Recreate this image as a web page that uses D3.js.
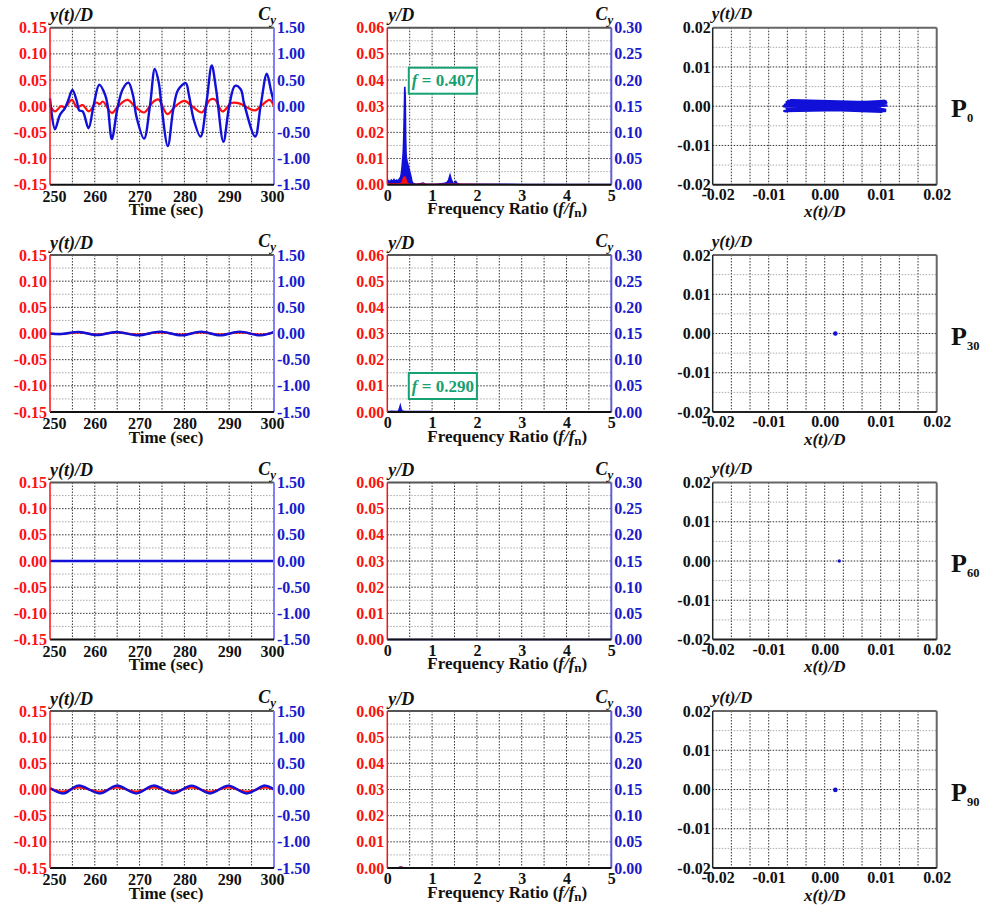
<!DOCTYPE html>
<html>
<head>
<meta charset="utf-8">
<script src="https://cdn.jsdelivr.net/npm/d3@7"></script>
<style>
    body { margin: 0; background: #fff; }
    svg text { font-family: "Liberation Serif", "Times New Roman", serif; font-weight: bold; }
</style>
</head>
<body>
<svg id="chart" width="981" height="906"></svg>
<script>
// ---- tick labels ----
const timeTicks = [250, 260, 270, 280, 290, 300];
const ydTimeTicks = [-0.15, -0.1, -0.05, 0, 0.05, 0.1, 0.15];
const cyTimeTicks = [-1.5, -1.0, -0.5, 0, 0.5, 1.0, 1.5];
const freqTicks = [0, 1, 2, 3, 4, 5];
const ydFreqTicks = [0, 0.01, 0.02, 0.03, 0.04, 0.05, 0.06];
const cyFreqTicks = [0, 0.05, 0.1, 0.15, 0.2, 0.25, 0.3];
const orbitTicks = [-0.02, -0.01, 0, 0.01, 0.02];
const caseNames = ["0", "30", "60", "90"];
const peakLabels = ["0.407", "0.290", null, null];

// ---- P0 ----
const tCy0 = [250, 251.1, 252.2, 253.3, 254.1, 255.0, 256.0, 256.5, 257.3, 258.6, 259.7, 261.0, 262.3, 262.9, 263.8, 265.0, 266.2, 267.5, 268.5, 269.3, 271.0, 272.3, 273.4, 274.3, 274.9, 276.3, 277.5, 278.6, 280.3, 281.0, 282.1, 283.6, 285.0, 286.1, 287.1, 288.7, 290.0, 291.3, 292.6, 293.3, 295.8, 297.0, 298.4, 299.3, 300];
const cy0 = [0.15, -0.44, -0.17, -0.04, 0.12, 0.31, 0.09, -0.08, -0.1, -0.42, 0.0, 0.41, 0.22, 0.0, -0.63, -0.07, 0.32, 0.45, 0.22, -0.2, -0.62, 0.0, 0.71, 0.44, 0.0, -0.76, -0.07, 0.31, 0.44, 0.22, -0.26, -0.58, 0.12, 0.78, 0.31, -0.68, 0.0, 0.39, 0.32, 0.06, -0.58, 0.0, 0.62, 0.31, 0.06];
const tYd0 = [250, 251.1, 252.5, 253.3, 254.9, 256.0, 257.3, 258.7, 260.3, 261.1, 261.8, 263.8, 265.2, 267.3, 269.0, 271.0, 273.0, 274.2, 276.2, 278.0, 280.0, 281.7, 283.9, 285.7, 286.8, 288.5, 290.5, 292.4, 294.3, 295.8, 297.3, 299.0, 300];
const yd0 = [0.002, -0.01, 0.0, -0.002, 0.012, -0.002, 0.002, -0.01, 0.007, 0.004, 0.009, -0.013, 0.0, 0.012, -0.001, -0.012, 0.008, 0.013, -0.015, 0.0, 0.01, 0.0, -0.012, 0.012, 0.013, -0.01, 0.006, 0.005, -0.004, -0.008, 0.002, 0.012, 0.0];
const freqCy0 = [0, 0.03, 0.06, 0.09, 0.12, 0.15, 0.18, 0.21, 0.24, 0.27, 0.30, 0.32, 0.33, 0.34, 0.35, 0.36, 0.37, 0.38, 0.39, 0.40, 0.41, 0.42, 0.44, 0.47, 0.50, 0.53, 0.55, 0.58, 0.65, 0.75, 0.80, 0.85, 0.95, 1.10, 1.25, 1.33, 1.37, 1.40, 1.43, 1.47, 1.50, 1.53, 1.56, 1.62, 1.80, 2.00, 2.30, 2.60, 3.00, 4.00, 5.00];
const ampCy0 = [0.004, 0.008, 0.005, 0.009, 0.006, 0.01, 0.006, 0.009, 0.007, 0.011, 0.015, 0.025, 0.034, 0.045, 0.055, 0.07, 0.1, 0.14, 0.187, 0.17, 0.09, 0.055, 0.045, 0.035, 0.025, 0.015, 0.006, 0.002, 0.001, 0.002, 0.003, 0.001, 0.001, 0.001, 0.002, 0.004, 0.009, 0.018, 0.009, 0.003, 0.002, 0.006, 0.002, 0.001, 0.001, 0.001, 0.001, 0.001, 0.0005, 0.0005, 0.0005];
const freqYd0 = [0, 0.05, 0.10, 0.15, 0.20, 0.25, 0.30, 0.33, 0.35, 0.37, 0.39, 0.41, 0.43, 0.45, 0.50, 0.60, 0.80, 0.85, 1.00, 1.40, 2.00, 5.00];
const ampYd0 = [0.0003, 0.0004, 0.0002, 0.0004, 0.0003, 0.0004, 0.0005, 0.001, 0.0022, 0.0028, 0.003, 0.0026, 0.0012, 0.0005, 0.0002, 0.0001, 0.0003, 0.0001, 0.0001, 0.0002, 0.0001, 0.0];
const orbitX0 = [-0.007, 0.0108, -0.0065, 0.0105, -0.0072, 0.011, -0.006, 0.0102, -0.0068, 0.0109, -0.0071, 0.0104, -0.0066, 0.011, -0.0069, 0.0106, -0.0062, 0.0108, -0.007, 0.0103, -0.0067, 0.0107, -0.0073, 0.0101];
const orbitY0 = [0.001, -0.0012, 0.0013, -0.0008, -0.0012, 0.0009, 0.0015, -0.0014, -0.0005, 0.0012, 0.0004, -0.0011, 0.0011, 0.0002, -0.0013, 0.001, 0.0007, -0.0009, -0.0002, 0.0005, -0.0008, 0.0013, 0.0, -0.0004];

// ---- P30 ----
const tCy30 = [250, 252.5, 256.5, 260.5, 264.8, 269.7, 274.5, 279.4, 283.7, 288.0, 292.3, 297.0, 300];
const cy30 = [0.0, -0.01, 0.03, -0.03, 0.03, -0.035, 0.035, -0.035, 0.035, -0.035, 0.035, -0.035, 0.03];
const tYd30 = [250, 252.5, 256.5, 260.5, 264.8, 269.7, 274.5, 279.4, 283.7, 288.0, 292.3, 297.0, 300];
const yd30 = [0.0, -0.001, 0.002, -0.002, 0.002, -0.002, 0.002, -0.002, 0.002, -0.002, 0.002, -0.002, 0.002];
const freqCy30 = [0, 0.1, 0.2, 0.25, 0.27, 0.29, 0.31, 0.33, 0.4, 0.6, 0.8, 1.0, 1.05, 5.0];
const ampCy30 = [0.001, 0.0015, 0.001, 0.002, 0.006, 0.012, 0.005, 0.002, 0.001, 0.001, 0.001, 0.001, 0.0, 0.0];
const freqYd30 = [0, 5];
const ampYd30 = [0, 0];
const orbitX30 = [0.0019];
const orbitY30 = [0.0];

// ---- P60 ----
const tCy60 = [250, 300];
const cy60 = [0, 0];
const tYd60 = [250, 300];
const yd60 = [0, 0];
const freqCy60 = [0, 5];
const ampCy60 = [0, 0];
const freqYd60 = [0, 5];
const ampYd60 = [0, 0];
const orbitX60 = [0.0026];
const orbitY60 = [0.0];

// ---- P90 ----
const tCy90 = [250, 253.0, 256.3, 261.2, 264.9, 269.3, 273.1, 277.5, 281.6, 285.7, 289.8, 293.9, 298.0, 300];
const cy90 = [0.03, -0.075, 0.075, -0.075, 0.075, -0.075, 0.075, -0.075, 0.075, -0.075, 0.075, -0.075, 0.075, 0.0];
const tYd90 = [250, 253.0, 256.3, 261.2, 264.9, 269.3, 273.1, 277.5, 281.6, 285.7, 289.8, 293.9, 298.0, 300];
const yd90 = [0.002, -0.004, 0.004, -0.004, 0.004, -0.004, 0.004, -0.004, 0.004, -0.004, 0.004, -0.004, 0.004, 0.0];
const freqCy90 = [0, 0.25, 0.3, 0.35, 0.6, 5];
const ampCy90 = [0.0005, 0.001, 0.002, 0.001, 0.0005, 0];
const freqYd90 = [0, 0.26, 0.3, 0.34, 0.5, 5];
const ampYd90 = [0, 0.0001, 0.0004, 0.0001, 0, 0];
const orbitX90 = [0.0019];
const orbitY90 = [-0.0001];

const zip = (a, b) => a.map((v, i) => [v, b[i]]);

const rows = [
    { time: [zip(tYd0, yd0), zip(tCy0, cy0)], spec: [zip(freqYd0, ampYd0), zip(freqCy0, ampCy0)], orbit: zip(orbitX0, orbitY0) },
    { time: [zip(tYd30, yd30), zip(tCy30, cy30)], spec: [zip(freqYd30, ampYd30), zip(freqCy30, ampCy30)], orbit: zip(orbitX30, orbitY30) },
    { time: [zip(tYd60, yd60), zip(tCy60, cy60)], spec: [zip(freqYd60, ampYd60), zip(freqCy60, ampCy60)], orbit: zip(orbitX60, orbitY60) },
    { time: [zip(tYd90, yd90), zip(tCy90, cy90)], spec: [zip(freqYd90, ampYd90), zip(freqCy90, ampCy90)], orbit: zip(orbitX90, orbitY90) }
];

// ---- layout ----
const rowTops = [27.7, 255, 482.5, 711];
const plotW = 224;
const plotH = 157;
const timeLeft = 50;
const freqLeft = 387.3;
const orbitLeft = 712.7;

const RED = "#ff1010";
const BLUE = "#1010d8";
const BLUE_TEXT = "#1a1acc";
const GREEN = "#17a070";
const SERIF = '"Liberation Serif", "Times New Roman", serif';
const TICK_SIZE = 16;

const locale = d3.formatLocale({ decimal: ".", thousands: ",", grouping: [3], currency: ["", ""], minus: "-" });
const f2 = locale.format(".2f");

const svg = d3.select("#chart");

const gridLines = (g, xs, ys, majorEvery) => {
    g.append("g")
        .selectAll("line")
        .data(xs)
        .join("line")
        .attr("x1", (d) => d)
        .attr("x2", (d) => d)
        .attr("y1", 0)
        .attr("y2", plotH)
        .attr("stroke", "#333")
        .attr("stroke-width", 1)
        .attr("stroke-dasharray", "1.5,1.5");
    g.append("g")
        .selectAll("line")
        .data(ys)
        .join("line")
        .attr("x1", 0)
        .attr("x2", plotW)
        .attr("y1", (d) => d.y)
        .attr("y2", (d) => d.y)
        .attr("stroke", (d) => (d.i % majorEvery == 0 ? "#333" : "#aaa"))
        .attr("stroke-width", 1)
        .attr("stroke-dasharray", "1.5,1.5");
};

// draws an axis with labels only (the frame is drawn separately)
const labelAxis = (g, axis, color, offsets) => {
    const a = g.append("g").call(axis);
    a.select(".domain").remove();
    a.attr("font-size", TICK_SIZE).attr("font-family", SERIF).attr("font-weight", "bold");
    const texts = a.selectAll("text").attr("fill", color);
    if (offsets) {
        texts.attr("dx", (d, i) => offsets[i] || 0);
    }
    return a;
};

const frame = (g, colors) => {
    const [top, right, bottom, left] = colors;
    const seg = (x1, y1, x2, y2, c, w) =>
        g.append("line").attr("x1", x1).attr("y1", y1).attr("x2", x2).attr("y2", y2).attr("stroke", c).attr("stroke-width", w);
    seg(0, 0, plotW, 0, top, 2);
    seg(plotW, 0, plotW, plotH, right, 2);
    seg(0, plotH, plotW, plotH, bottom, 2);
    seg(0, 0, 0, plotH, left, 1.5);
};

const cyLabel = (g, x, y) => {
    const t = g.append("text").attr("x", x).attr("y", y).attr("text-anchor", "end").attr("font-size", 18).attr("font-style", "italic").attr("fill", "#111");
    t.append("tspan").text("C");
    t.append("tspan").attr("font-size", 13).attr("dy", 4).text("y");
};

const timePanel = (row, top) => {
    const g = svg.append("g").attr("transform", `translate(${timeLeft},${top})`);
    const x = d3.scaleLinear().domain([250, 300]).range([0, plotW]);
    const yL = d3.scaleLinear().domain([-0.15, 0.15]).range([plotH, 0]);
    const yR = d3.scaleLinear().domain([-1.5, 1.5]).range([plotH, 0]);

    gridLines(
        g,
        d3.range(1, 10).map((i) => x(250 + i * 5)),
        d3.range(1, 12).map((i) => ({ i, y: yL(-0.15 + i * 0.025) })),
        2
    );

    const line = (sx, sy) =>
        d3.line().x((d) => sx(d[0])).y((d) => sy(d[1])).curve(d3.curveCatmullRom.alpha(0.5));
    g.append("path").datum(row.time[0]).attr("fill", "none").attr("stroke", RED).attr("stroke-width", 2.2).attr("d", line(x, yL));
    g.append("path").datum(row.time[1]).attr("fill", "none").attr("stroke", BLUE).attr("stroke-width", 2.4).attr("d", line(x, yR));

    frame(g, ["#555", "#8080ff", "#111", RED]);

    labelAxis(g, d3.axisLeft(yL).tickValues(ydTimeTicks).tickSize(0).tickPadding(3).tickFormat(f2), RED);
    labelAxis(g.append("g").attr("transform", `translate(${plotW},0)`), d3.axisRight(yR).tickValues(cyTimeTicks).tickSize(0).tickPadding(3).tickFormat(f2), BLUE_TEXT);
    labelAxis(g.append("g").attr("transform", `translate(0,${plotH})`), d3.axisBottom(x).tickValues(timeTicks).tickSize(0).tickPadding(6).tickFormat(d3.format("d")), "#111", [4, 0, 0, 0, 0, -2]);

    g.append("text").attr("x", 0).attr("y", -6.5).attr("font-size", 18).attr("font-style", "italic").attr("fill", "#111").text("y(t)/D");
    cyLabel(g, plotW + 2, -8);
    g.append("text").attr("x", plotW / 2 + 4).attr("y", plotH + 30.5).attr("text-anchor", "middle").attr("font-size", 17).attr("fill", "#111").text("Time (sec)");
};

const freqPanel = (row, top, peak, peakTop) => {
    const g = svg.append("g").attr("transform", `translate(${freqLeft},${top})`);
    const x = d3.scaleLinear().domain([0, 5]).range([0, plotW]);
    const yL = d3.scaleLinear().domain([0, 0.06]).range([plotH, 0]);
    const yR = d3.scaleLinear().domain([0, 0.3]).range([plotH, 0]);

    gridLines(
        g,
        d3.range(1, 10).map((i) => x(i * 0.5)),
        d3.range(1, 12).map((i) => ({ i, y: yL(i * 0.005) })),
        2
    );

    const area = (sy) => d3.area().x((d) => x(d[0])).y0(plotH).y1((d) => sy(d[1]));
    const line = (sy) => d3.line().x((d) => x(d[0])).y((d) => sy(d[1]));
    g.append("path").datum(row.spec[1]).attr("fill", BLUE).attr("d", area(yR));
    g.append("path").datum(row.spec[1]).attr("fill", "none").attr("stroke", BLUE).attr("stroke-width", 1.6).attr("d", line(yR));
    g.append("path").datum(row.spec[0]).attr("fill", RED).attr("d", area(yL));
    g.append("path").datum(row.spec[0]).attr("fill", "none").attr("stroke", RED).attr("stroke-width", 1.2).attr("d", line(yL));

    frame(g, ["#555", "#6060d0", "#111", RED]);

    labelAxis(g, d3.axisLeft(yL).tickValues(ydFreqTicks).tickSize(0).tickPadding(3).tickFormat(f2), RED);
    labelAxis(g.append("g").attr("transform", `translate(${plotW},0)`), d3.axisRight(yR).tickValues(cyFreqTicks).tickSize(0).tickPadding(3).tickFormat(f2), BLUE_TEXT);
    labelAxis(g.append("g").attr("transform", `translate(0,${plotH})`), d3.axisBottom(x).tickValues(freqTicks).tickSize(0).tickPadding(5).tickFormat(d3.format("d")), "#111");

    g.append("text").attr("x", 1).attr("y", -6.5).attr("font-size", 18).attr("font-style", "italic").attr("fill", "#111").text("y/D");
    cyLabel(g, plotW + 2, -8);

    const xl = g.append("text").attr("x", plotW / 2 + 8).attr("y", plotH + 29.5).attr("text-anchor", "middle").attr("font-size", 17).attr("fill", "#111");
    xl.append("tspan").text("Frequency Ratio (");
    xl.append("tspan").attr("font-style", "italic").text("f/f");
    xl.append("tspan").attr("font-size", 13).attr("dy", 3).text("n");
    xl.append("tspan").attr("dy", -3).text(")");

    if (peak) {
        const bx = x(0.48);
        const bw = x(2.0) - bx;
        g.append("rect").attr("x", bx).attr("y", peakTop).attr("width", bw).attr("height", 26).attr("fill", "#fff").attr("stroke", GREEN).attr("stroke-width", 2);
        const t = g.append("text").attr("x", bx + bw / 2).attr("y", peakTop + 18.5).attr("text-anchor", "middle").attr("font-size", 17).attr("fill", GREEN);
        t.append("tspan").attr("font-style", "italic").text("f");
        t.append("tspan").text(" = " + peak);
    }
};

const orbitPanel = (row, top, name, r) => {
    const g = svg.append("g").attr("transform", `translate(${orbitLeft},${top})`);
    const x = d3.scaleLinear().domain([-0.02, 0.02]).range([0, plotW]);
    const y = d3.scaleLinear().domain([-0.02, 0.02]).range([plotH, 0]);

    gridLines(
        g,
        d3.range(1, 12).map((i) => x(-0.02 + (i * 0.04) / 12)),
        d3.range(1, 8).map((i) => ({ i, y: y(-0.02 + i * 0.005) })),
        2
    );

    if (row.orbit.length > 1) {
        g.append("path")
            .datum(row.orbit)
            .attr("fill", "none")
            .attr("stroke", BLUE)
            .attr("stroke-width", 2.5)
            .attr("stroke-linejoin", "round")
            .attr("d", d3.line().x((d) => x(d[0])).y((d) => y(d[1])));
    } else {
        g.selectAll(".dot").data(row.orbit).join("circle").attr("cx", (d) => x(d[0])).attr("cy", (d) => y(d[1])).attr("r", r).attr("fill", BLUE);
    }

    frame(g, ["#666", "#666", "#222", "#222"]);

    labelAxis(g, d3.axisLeft(y).tickValues(orbitTicks).tickSize(0).tickPadding(2).tickFormat(f2), "#111");
    labelAxis(g.append("g").attr("transform", `translate(0,${plotH})`), d3.axisBottom(x).tickValues(orbitTicks).tickSize(0).tickPadding(4).tickFormat(f2), "#111", [5, 0, 0, 0, 0]);

    g.append("text").attr("x", -1).attr("y", -8.5).attr("font-size", 17).attr("font-style", "italic").attr("fill", "#111").text("y(t)/D");
    g.append("text").attr("x", plotW / 2).attr("y", plotH + 32.5).attr("text-anchor", "middle").attr("font-size", 17).attr("font-style", "italic").attr("fill", "#111").text("x(t)/D");

    const p = svg.append("text").attr("x", 951).attr("y", top + plotH / 2 + 11).attr("font-size", 26).attr("fill", "#111");
    p.append("tspan").text("P");
    p.append("tspan").attr("font-size", 12.5).attr("dy", 5).text(name);
};

const peakTops = [40, 118, 0, 0];
rows.forEach((row, i) => {
    const top = rowTops[i];
    timePanel(row, top);
    freqPanel(row, top, peakLabels[i], peakTops[i]);
    orbitPanel(row, top, caseNames[i], i == 2 ? 1.7 : 2.3);
});
</script>
</body>
</html>
